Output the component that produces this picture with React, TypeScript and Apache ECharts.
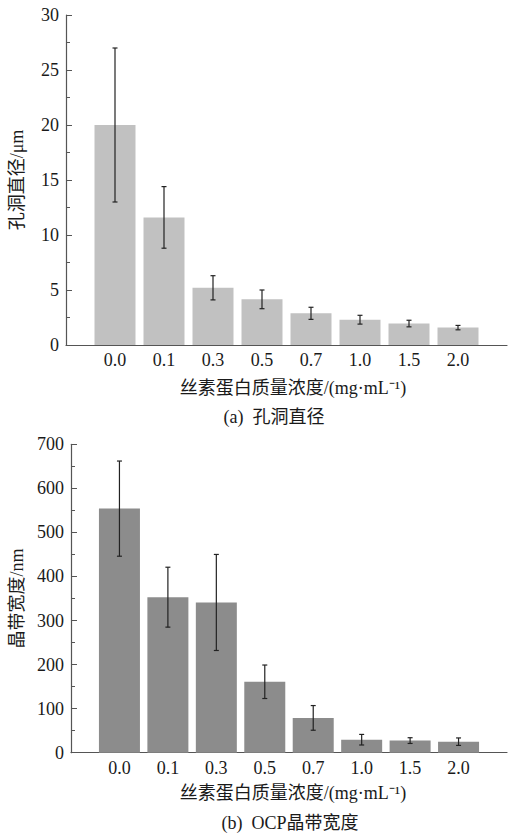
import React, { useEffect, useRef } from "react";
import * as echarts from "echarts";

const categories = ["0.0", "0.1", "0.3", "0.5", "0.7", "1.0", "1.5", "2.0"];
const poreDiameter = [20.0, 11.6, 5.2, 4.15, 2.88, 2.3, 1.95, 1.58];
const poreError = [7.0, 2.8, 1.1, 0.85, 0.55, 0.4, 0.3, 0.2];
const bandWidth = [554, 353, 341, 161, 79, 29.5, 27.5, 25];
const bandError = [108, 68, 109, 38, 28, 12, 6.5, 8.5];
const yTicksA = [0, 5, 10, 15, 20, 25, 30];
const yTicksB = [0, 100, 200, 300, 400, 500, 600, 700];

const SERIF = "Liberation Serif, Times New Roman, Noto Sans CJK SC, serif";
const MIXED = "Liberation Serif, Times New Roman, Noto Sans CJK SC, serif";
const FS = 18;

export default function App() {
  const ref = useRef<HTMLDivElement>(null);
  useEffect(() => {
    if (!ref.current) return;
    const chart = echarts.init(ref.current, undefined, { renderer: "svg" });
    const axisColor = "#555";
    const xAxisCommon = (gridIndex: number) => ({
      type: "value",
      gridIndex,
      min: -1,
      max: 8,
      interval: 1,
      axisLine: { show: true, onZero: false, lineStyle: { color: axisColor, width: 1.2 } },
      axisTick: { show: false },
      splitLine: { show: false },
      axisLabel: {
        color: "#1a1a1a",
        fontFamily: SERIF,
        fontSize: FS,
        margin: 6,
        showMinLabel: true,
        showMaxLabel: true,
        formatter: (v: number) => {
          const i = Math.round(v);
          return i >= 0 && i < categories.length ? categories[i] : "";
        },
      },
    });
    const yAxisCommon = (gridIndex: number, ticks: number[], name: string, nameGap: number) => ({
      type: "value",
      gridIndex,
      min: ticks[0],
      max: ticks[ticks.length - 1],
      interval: ticks[1] - ticks[0],
      name,
      nameLocation: "middle",
      nameGap,
      nameRotate: 90,
      nameTextStyle: { color: "#1a1a1a", fontFamily: MIXED, fontSize: FS },
      axisLine: { show: true, onZero: false, lineStyle: { color: axisColor, width: 1.2 } },
      axisTick: { show: true, inside: true, length: 6, lineStyle: { color: axisColor } },
      minorTick: { show: true, splitNumber: 2, length: 4, lineStyle: { color: axisColor } },
      splitLine: { show: false },
      axisLabel: { color: "#1a1a1a", fontFamily: SERIF, fontSize: FS, margin: 7 },
    });
    const errorSeries = (xAxisIndex: number, yAxisIndex: number, vals: number[], errs: number[]) => ({
      type: "custom",
      xAxisIndex,
      yAxisIndex,
      data: vals.map((v, i) => [i, v - errs[i], v + errs[i]]),
      renderItem: (params: any, api: any) => {
        const x = api.value(0);
        const lo = api.coord([x, api.value(1)]);
        const hi = api.coord([x, api.value(2)]);
        const w = 2.5;
        const style = { stroke: "#222", lineWidth: 1.2 };
        return {
          type: "group",
          children: [
            { type: "line", shape: { x1: lo[0], y1: lo[1], x2: hi[0], y2: hi[1] }, style },
            { type: "line", shape: { x1: lo[0] - w, y1: lo[1], x2: lo[0] + w, y2: lo[1] }, style },
            { type: "line", shape: { x1: hi[0] - w, y1: hi[1], x2: hi[0] + w, y2: hi[1] }, style },
          ],
        };
      },
      z: 5,
    });
    const textEl = (x: number, y: number, text: string) => ({
      type: "text",
      x,
      y,
      style: {
        text,
        fill: "#1a1a1a",
        fontSize: FS,
        fontFamily: MIXED,
        align: "center",
        verticalAlign: "middle",
      },
    });
    chart.setOption({
      animation: false,
      backgroundColor: "#fff",
      grid: [
        { left: 62, top: 15, width: 448, height: 330 },
        { left: 62, top: 444.3, width: 448, height: 308.4 },
      ],
      xAxis: [xAxisCommon(0), xAxisCommon(1)],
      yAxis: [
        yAxisCommon(0, yTicksA, "孔洞直径/μm", 40),
        yAxisCommon(1, yTicksB, "晶带宽度/nm", 45),
      ],
      series: [
        {
          type: "bar",
          xAxisIndex: 0,
          yAxisIndex: 0,
          barWidth: 41,
          itemStyle: { color: "#c1c1c1" },
          data: poreDiameter.map((v, i) => [i, v]),
        },
        errorSeries(0, 0, poreDiameter, poreError),
        {
          type: "bar",
          xAxisIndex: 1,
          yAxisIndex: 1,
          barWidth: 41,
          itemStyle: { color: "#8c8c8c" },
          data: bandWidth.map((v, i) => [i, v]),
        },
        errorSeries(1, 1, bandWidth, bandError),
      ],
      graphic: [
        textEl(293, 388, "丝素蛋白质量浓度/(mg·mL⁻¹)"),
        textEl(274, 417, "(a)  孔洞直径"),
        textEl(293, 793, "丝素蛋白质量浓度/(mg·mL⁻¹)"),
        textEl(290, 823, "(b)  OCP晶带宽度"),
      ],
    });
    return () => chart.dispose();
  }, []);
  return (
    <div
      ref={ref}
      style={{ position: "fixed", left: 0, top: 0, width: 510, height: 837, background: "#fff" }}
    />
  );
}
